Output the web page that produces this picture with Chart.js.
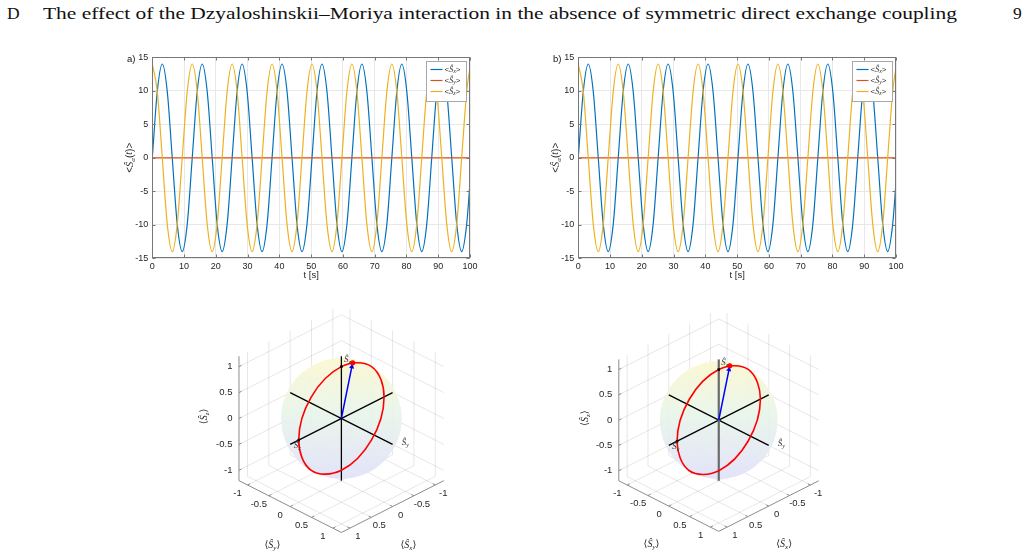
<!DOCTYPE html>
<html><head><meta charset="utf-8">
<script src="https://cdn.jsdelivr.net/npm/chart.js@4.4.1/dist/chart.umd.min.js"></script>
<style>
html,body{margin:0;padding:0;background:#fff;width:1027px;height:558px;overflow:hidden;position:relative}
canvas{position:absolute;display:block}
.h{position:absolute;top:3px;font-family:'Liberation Serif','DejaVu Serif',serif;font-size:17.5px;line-height:20px;color:#111;white-space:nowrap}
</style></head><body>
<span class="h" style="left:7px">D</span>
<span class="h" id="htitle" style="left:42.7px;transform-origin:0 0">The effect of the Dzyaloshinskii–Moriya interaction in the absence of symmetric direct exchange coupling</span>
<span class="h" style="left:1013px">9</span>
<canvas id="ca" width="390" height="245" style="left:100px;top:45px"></canvas>
<canvas id="cb" width="390" height="245" style="left:526px;top:45px"></canvas>
<canvas id="c3a" width="300" height="268" style="left:180px;top:290px"></canvas>
<canvas id="c3b" width="300" height="268" style="left:560px;top:290px"></canvas>
<script>
// ---------- data ----------
const tSec = [
 0, 1.57, 3.14, 4.71, 6.28, 7.85, 9.42, 11.0,
 12.57, 14.14, 15.71, 17.28, 18.85, 20.42, 21.99, 23.56,
 25.13, 26.7, 28.27, 29.85, 31.42, 32.99, 34.56, 36.13,
 37.7, 39.27, 40.84, 42.41, 43.98, 45.55, 47.12, 48.69,
 50.27, 51.84, 53.41, 54.98, 56.55, 58.12, 59.69, 61.26,
 62.83, 64.4, 65.97, 67.54, 69.12, 70.69, 72.26, 73.83,
 75.4, 76.97, 78.54, 80.11, 81.68, 83.25, 84.82, 86.39,
 87.96, 89.54, 91.11, 92.68, 94.25, 95.82, 97.39, 98.96,
 100];
const sxVals = [
 0, 9.9, 14, 9.9, 0, -9.9, -14, -9.9,
 0, 9.9, 14, 9.9, 0, -9.9, -14, -9.9,
 0, 9.9, 14, 9.9, 0, -9.9, -14, -9.9,
 0, 9.9, 14, 9.9, 0, -9.9, -14, -9.9,
 0, 9.9, 14, 9.9, 0, -9.9, -14, -9.9,
 0, 9.9, 14, 9.9, 0, -9.9, -14, -9.9,
 0, 9.9, 14, 9.9, 0, -9.9, -14, -9.9,
 0, 9.9, 14, 9.9, 0, -9.9, -14, -9.9,
 -3.7];
const syVals = [
 0,0,0,0,0,0,0,0, 0,0,0,0,0,0,0,0, 0,0,0,0,0,0,0,0, 0,0,0,0,0,0,0,0,
 0,0,0,0,0,0,0,0, 0,0,0,0,0,0,0,0, 0,0,0,0,0,0,0,0, 0,0,0,0,0,0,0,0,
 0];
const szVals = [
 14, 9.9, 0, -9.9, -14, -9.9, 0, 9.9,
 14, 9.9, 0, -9.9, -14, -9.9, 0, 9.9,
 14, 9.9, 0, -9.9, -14, -9.9, 0, 9.9,
 14, 9.9, 0, -9.9, -14, -9.9, 0, 9.9,
 14, 9.9, 0, -9.9, -14, -9.9, 0, 9.9,
 14, 9.9, 0, -9.9, -14, -9.9, 0, 9.9,
 14, 9.9, 0, -9.9, -14, -9.9, 0, 9.9,
 14, 9.9, 0, -9.9, -14, -9.9, 0, 9.9,
 13.5];
const spinMax = 14;               // amplitude of <S> (normalises the Bloch trajectory)
const seriesNames = ['x','y','z'];
const xTicks = [0,10,20,30,40,50,60,70,80,90,100];
const yTicks = [-15,-10,-5,0,5,10,15];
const t3Ticks = [-1,-0.5,0,0.5,1];
const t3Labels = ['-1','-0.5','0','0.5','1'];

// ---------- helpers ----------
const SERIF = "'Liberation Serif','DejaVu Serif',serif";
const SANS = "'Liberation Sans',Arial,sans-serif";
const COLORS = ['#0072BD','#D95319','#EDB120'];

function drawRich(c, parts, x, y, align){
  let w = 0;
  for (const p of parts){ c.font = p.f; w += c.measureText(p.t).width; }
  let cx = align === 'center' ? x - w/2 : (align === 'right' ? x - w : x);
  c.textAlign = 'left'; c.textBaseline = 'middle';
  for (const p of parts){ c.font = p.f; c.fillText(p.t, cx, y + (p.dy||0)); cx += c.measureText(p.t).width; }
}
function spinParts(sub, size, lb, rb, lbFont){
  return [
    {t: lb, f: `${size}px ${lbFont||SERIF}`},
    {t: 'Ŝ', f: `italic ${size}px ${SERIF}`},
    {t: sub, f: `italic ${Math.round(size*0.72)}px ${SERIF}`, dy: size*0.28},
    {t: rb, f: `${size}px ${lbFont||SERIF}`}
  ];
}

// ---------- 2D time plots ----------
function decor(tag){
  return {id:'decor'+tag, afterDraw(chart){
    const c = chart.ctx, a = chart.chartArea, xs = chart.scales.x, ys = chart.scales.y;
    c.save();
    const L = Math.round(a.left)+0.5, R = Math.round(a.right)-0.5, T = Math.round(a.top)+0.5, B = Math.round(a.bottom)-0.5;
    c.strokeStyle = '#777'; c.lineWidth = 1;
    c.strokeRect(L, T, R-L, B-T);
    c.beginPath();
    xTicks.forEach(v=>{ const px = Math.round(xs.getPixelForValue(v))+0.5; c.moveTo(px,B); c.lineTo(px,B-3); c.moveTo(px,T); c.lineTo(px,T+3); });
    yTicks.forEach(v=>{ const py = Math.round(ys.getPixelForValue(v))+0.5; c.moveTo(L,py); c.lineTo(L+3,py); c.moveTo(R,py); c.lineTo(R-3,py); });
    c.stroke();
    // legend
    const bw = 40, bh = 40, bx = Math.round(a.right - 4 - bw)+0.5, by = Math.round(a.top + 4)+0.5;
    c.fillStyle = '#fff'; c.fillRect(bx, by, bw, bh);
    c.strokeStyle = '#a8a8a8'; c.strokeRect(bx, by, bw, bh);
    chart.data.datasets.forEach((d,i)=>{
      const yy = by + 8 + 11*i;
      c.strokeStyle = d.borderColor; c.lineWidth = 1.2;
      c.beginPath(); c.moveTo(bx+4, yy); c.lineTo(bx+16, yy); c.stroke();
      c.fillStyle = '#333';
      drawRich(c, spinParts(d.label, 8, '<', '>', SANS), bx+18, yy, 'left');
    });
    // y title
    c.fillStyle = '#262626';
    c.save(); c.translate(a.left - 22.5, (a.top + a.bottom)/2); c.rotate(-Math.PI/2);
    drawRich(c, [
      {t:'<', f:`10px ${SANS}`}, {t:'Ŝ', f:`italic 10.5px ${SERIF}`}, {t:'α', f:`italic 7px ${SERIF}`, dy:3},
      {t:'(', f:`10px ${SANS}`}, {t:'t', f:`italic 10px ${SERIF}`}, {t:')>', f:`10px ${SANS}`}], 0, 0, 'center');
    c.restore();
    // x title and panel tag
    c.font = `9.5px ${SANS}`; c.textAlign = 'center'; c.textBaseline = 'middle';
    c.fillText('t [s]', (a.left + a.right)/2, a.bottom + 17);
    c.fillStyle = '#111'; c.font = `9.5px ${SANS}`;
    c.fillText(tag + ')', a.left - 21, a.top + 2.5);
    c.restore();
  }};
}

function makeLine(id, tag){
  const vals = [sxVals, syVals, szVals];
  new Chart(document.getElementById(id), {
    type: 'line',
    data: { datasets: vals.map((v,k)=>({
      label: seriesNames[k],
      data: tSec.map((tt,i)=>({x: tt, y: v[i]})),
      borderColor: COLORS[k], backgroundColor: COLORS[k],
      borderWidth: 1.2, pointRadius: 0, fill: false,
      cubicInterpolationMode: 'monotone', order: 2-k
    })) },
    options: {
      responsive: false, animation: false, devicePixelRatio: 1, events: [],
      layout: { padding: { left: 0, right: 20, top: 12.3, bottom: 0 } },
      plugins: { legend: { display: false }, tooltip: { enabled: false } },
      scales: {
        x: { type: 'linear', min: 0, max: 100,
             afterBuildTicks(s){ s.ticks = xTicks.map(v=>({value:v})); },
             ticks: { font: { family: SANS, size: 9 }, color: '#262626', padding: 3, maxRotation: 0, autoSkip: false },
             grid: { color: '#e8e8e8', drawTicks: false }, border: { display: false },
             afterFit(s){ s.height = 31.7; } },
        y: { type: 'linear', min: -15, max: 15,
             afterBuildTicks(s){ s.ticks = yTicks.map(v=>({value:v})); },
             ticks: { font: { family: SANS, size: 9 }, color: '#262626', padding: 4, autoSkip: false },
             grid: { color: '#e8e8e8', drawTicks: false }, border: { display: false },
             afterFit(s){ s.width = 52.3; } }
      }
    },
    plugins: [decor(tag)]
  });
}

// ---------- 3D Bloch plots ----------
function make3D(id, cx, cy, s, el, zAxisColor, zAxisWidth){
  const cv = document.getElementById(id);
  const W = cv.width, H = cv.height, L = 1.2, k = s/62;
  const ce = Math.cos(el*Math.PI/180), se = Math.sin(el*Math.PI/180), c45 = Math.SQRT1_2;
  const P = (x,y,z) => ({x: (y-x)*c45*s, y: z*ce*s - (x+y)*c45*se*s});
  const segs = list => { const out = []; list.forEach((sg,i)=>{ if (i) out.push({x:NaN, y:NaN}); sg.forEach(p=>out.push(P(p[0],p[1],p[2]))); }); return out; };
  const grid = [], rul = [], tks = [];
  t3Ticks.forEach(v=>{
    grid.push([[v,-L,-L],[v,L,-L]], [[-L,v,-L],[L,v,-L]]);
    grid.push([[v,-L,-L],[v,-L,L]], [[-L,-L,v],[L,-L,v]]);
    grid.push([[-L,v,-L],[-L,v,L]], [[-L,-L,v],[-L,L,v]]);
    tks.push([[L,v,-L],[L-0.06,v,-L]], [[v,L,-L],[v,L-0.06,-L]], [[L,-L,v],[L-0.06,-L,v]]);
  });
  rul.push([[L,-L,-L],[L,-L,L]], [[L,-L,-L],[L,L,-L]], [[-L,L,-L],[L,L,-L]]);
  const axesXY = [[[-L,0,0],[L,0,0]], [[0,-L,0],[0,L,0]]];
  const axisZ = [[[0,0,-L],[0,0,L]]];
  const traj = tSec.map((tt,i)=>P(sxVals[i]/spinMax, syVals[i]/spinMax, szVals[i]/spinMax));
  const n = tSec.length-1;
  const tip = [sxVals[n]/spinMax, syVals[n]/spinMax, szVals[n]/spinMax];
  const tipP = P(tip[0], tip[1], tip[2]);
  const headP = P(tip[0]*0.93, tip[1]*0.93, tip[2]*0.93);
  const rot = Math.atan2(tipP.x, tipP.y)*180/Math.PI;
  const line = (data, color, width, order, extra) => Object.assign({data, showLine:true, borderColor:color, backgroundColor:color, borderWidth:width, pointRadius:0, tension:0, order, spanGaps:false}, extra||{});
  const sphere = {id:'sphere', afterDatasetDraw(chart, args){
    if (args.meta.order !== 9) return;
    const c = chart.ctx, x0 = chart.scales.x.getPixelForValue(0), y0 = chart.scales.y.getPixelForValue(0);
    const r = chart.scales.x.getPixelForValue(s) - x0;
    const g = c.createLinearGradient(0, y0-r, 0, y0+r);
    g.addColorStop(0, 'rgba(251,247,208,0.92)');
    g.addColorStop(0.45, 'rgba(232,245,234,0.92)');
    g.addColorStop(1, 'rgba(225,225,249,0.92)');
    c.save(); c.beginPath(); c.arc(x0, y0, r, 0, Math.PI*2); c.fillStyle = g; c.fill(); c.restore();
  }};
  const labels = {id:'labels3d', afterDraw(chart){
    const c = chart.ctx, X = v=>chart.scales.x.getPixelForValue(v), Y = v=>chart.scales.y.getPixelForValue(v);
    const px = p => ({x: X(p.x), y: Y(p.y)});
    const o = px(P(0,0,0));
    c.save(); c.fillStyle = '#262626'; c.font = `9.5px ${SANS}`; c.textBaseline = 'middle';
    t3Ticks.forEach((v,i)=>{
      const p = px(P(L,-L,v)); c.textAlign = 'right'; c.fillText(t3Labels[i], p.x-6.5, p.y);
      const q = px(P(L,v,-L)); c.textAlign = 'center'; c.fillText(t3Labels[i], q.x-10*k, q.y+8.5*k);
      const r = px(P(v,L,-L)); c.fillText(t3Labels[i], r.x+8*k, r.y+8.5*k);
    });
    drawRich(c, spinParts('y', 10, '⟨', '⟩'), o.x-69*k, o.y+127*k, 'center');
    drawRich(c, spinParts('x', 10, '⟨', '⟩'), o.x+67*k, o.y+127*k, 'center');
    c.save(); c.translate(o.x-137*k, o.y-2*k); c.rotate(-Math.PI/2);
    drawRich(c, spinParts('z', 10, '⟨', '⟩'), 0, 0, 'center'); c.restore();
    c.fillStyle = '#333';
    drawRich(c, spinParts('x', 9, '', ''), o.x-44*k, o.y+27*k, 'center');
    drawRich(c, spinParts('y', 9, '', ''), o.x+64*k, o.y+24*k, 'center');
    drawRich(c, spinParts('z', 9, '', ''), o.x+6*k, o.y-59*k, 'center');
    c.restore();
  }};
  // hide the spline segments next to the open ends of the trajectory (they overlap the smooth passes)
  const trajSeg = { borderColor: ctx => (ctx.p0DataIndex === 0 || ctx.p1DataIndex >= n-1) ? 'rgba(0,0,0,0)' : undefined };
  new Chart(cv, {
    type: 'scatter',
    data: { datasets: [
      line(segs(grid), 'rgba(38,38,38,0.11)', 1, 9),
      line(segs(rul), '#8c8c8c', 1, 8),
      line(segs(tks), '#8c8c8c', 1, 8),
      line(segs(axesXY), '#000', 1.3, 6),
      line(segs(axisZ), zAxisColor, zAxisWidth, 5),
      line(traj, '#ff0000', 1.6, 4, {tension: 0.375, segment: trajSeg}),
      line([P(0,0,0), headP], '#0000ff', 1.5, 3),
      {data:[headP], pointStyle:'triangle', rotation: rot, pointRadius:3, backgroundColor:'#0000ff', borderColor:'#0000ff', borderWidth:0, order:2},
      {data:[tipP], pointStyle:'circle', pointRadius:2.6, backgroundColor:'#ff0000', borderColor:'#ff0000', borderWidth:0, order:1},
      {data:[P(1,0,0), P(0,0,1)], pointStyle:'rect', pointRadius:1.8, backgroundColor:'#000', borderColor:'#000', borderWidth:0, order:0}
    ] },
    options: {
      responsive: false, animation: false, devicePixelRatio: 1, events: [],
      layout: { padding: 0 },
      plugins: { legend: { display: false }, tooltip: { enabled: false } },
      scales: {
        x: { type: 'linear', display: false, min: -cx, max: W - cx },
        y: { type: 'linear', display: false, min: -(H - cy), max: cy }
      }
    },
    plugins: [sphere, labels]
  });
}

// header width fit
const ht = document.getElementById('htitle');
ht.style.transform = 'scaleX(' + (914 / ht.getBoundingClientRect().width) + ')';

makeLine('ca', 'a');
makeLine('cb', 'b');
make3D('c3a', 161.7, 128.3, 62, 30.5, '#000', 1.3);
make3D('c3b', 159, 130, 60.5, 30.5, '#6a6a6a', 2.2);
</script>
</body></html>
